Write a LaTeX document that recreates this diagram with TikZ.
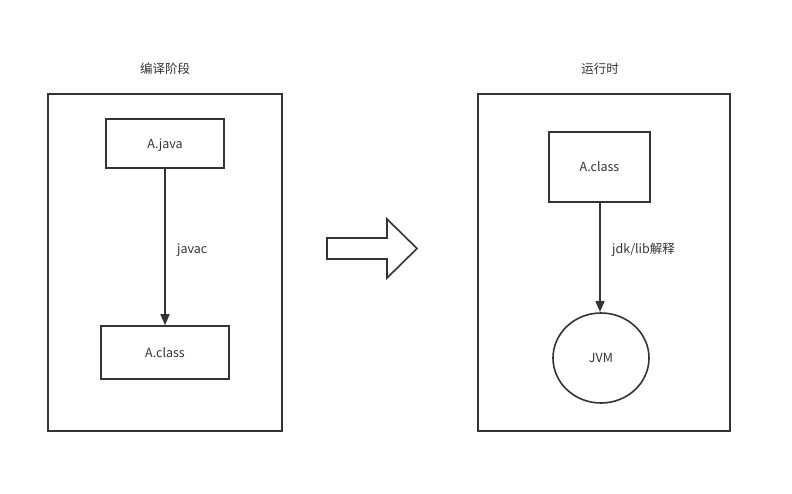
\documentclass[tikz,border=0pt]{standalone}
\usepackage{fontspec}
\setmainfont{Noto Sans CJK SC}
\usetikzlibrary{arrows.meta,shapes.geometric}
\definecolor{ln}{HTML}{333333}
\tikzset{
  box/.style={draw=ln,line width=1.6pt,minimum width=#1,inner sep=0pt},
  lbl/.style={font=\fontsize{12.5}{14}\selectfont,text=ln,inner sep=0pt,text height=9pt,text depth=0pt},
  conn/.style={draw=ln,line width=1.6pt,-{Triangle[length=11pt,width=9pt]}},
}
\begin{document}
\begin{tikzpicture}[x=1pt,y=-1pt]
\useasboundingbox (0,0) rectangle (792,493);
\node[lbl] (t1) at (165,69) {编译阶段};
\node[lbl] (t2) at (600,69) {运行时};
\draw[ln,line width=1.6pt] (48,94) rectangle (282,431);
\draw[ln,line width=1.6pt] (478,94) rectangle (730,431);
\node[box=118pt,minimum height=49pt,lbl,draw=ln] (java) at (165,143.5) {A.java};
\node[box=128pt,minimum height=53pt,lbl,draw=ln] (cls1) at (165,352.5) {A.class};
\draw[conn] (java) -- (cls1);
\node[lbl,anchor=west] (javac) at (177,249) {javac};
\node[box=101pt,minimum height=70pt,lbl,draw=ln] (cls2) at (599.5,167) {A.class};
\node[ellipse,draw=ln,line width=1.6pt,minimum width=96pt,minimum height=90pt,lbl] (jvm) at (601,358) {JVM};
\draw[conn] (cls2.south -| 600,0) -- (600,312) coordinate (jt);
\node[lbl,anchor=west] (jdk) at (612,249) {jdk/lib解释};
\draw[ln,line width=1.6pt,line join=miter] (327,238) -- (387,238) -- (387,219) -- (417,248.5) -- (387,278) -- (387,259) -- (327,259) -- cycle;
\end{tikzpicture}
\end{document}
